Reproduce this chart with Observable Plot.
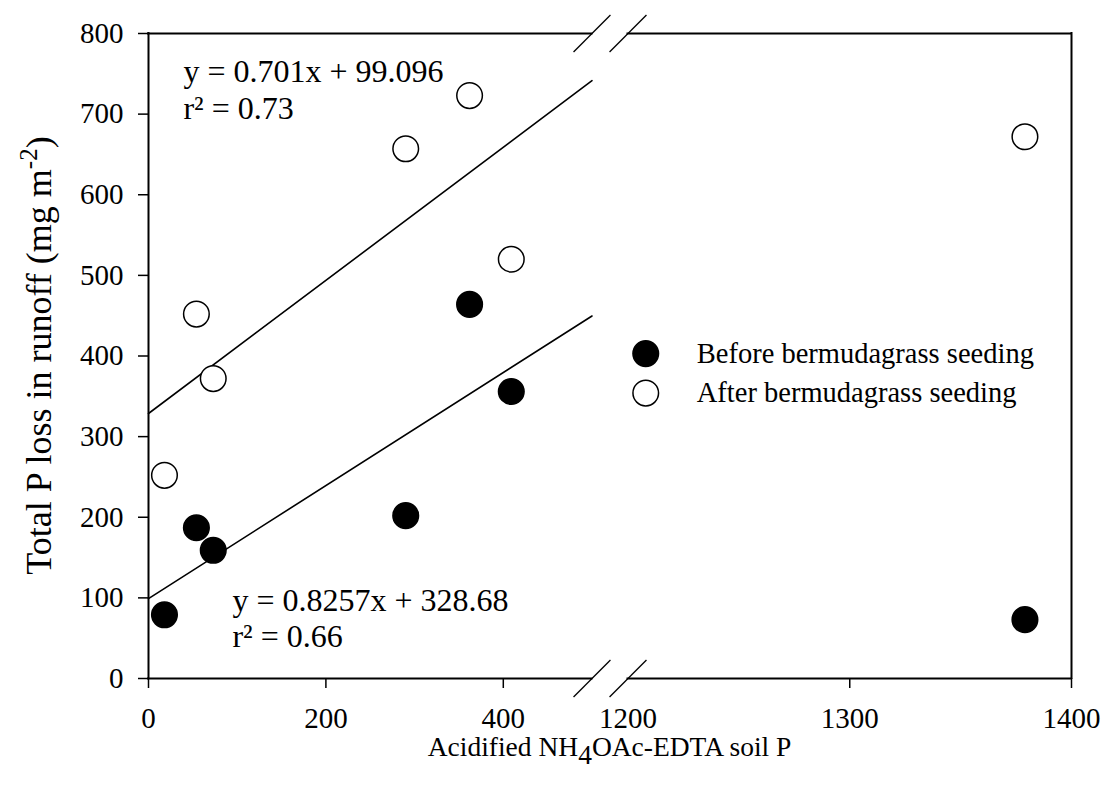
<!DOCTYPE html>
<html><head><meta charset="utf-8">
<script src="https://cdn.jsdelivr.net/npm/d3@7"></script>
<script src="https://cdn.jsdelivr.net/npm/@observablehq/plot@0.6"></script>
<style>body{margin:0;background:#fff} svg{display:block}</style>
</head><body><div id="chart"></div>
<script>
// ---- data ----
const soilP      = [18, 54, 73, 290, 362, 409, 1379];
const beforeLoss = [79, 187, 159, 202, 464, 356, 73];
const afterLoss  = [252, 452, 372, 657, 723, 520, 672];
const fitX       = [0, 500];
const beforeFitY = [99.1, 449.6];
const afterFitY  = [328.7, 741.5];
const xTickValues = [0, 200, 400, 1300, 1400];
const xTickLabels = [0, 200, 400, 1200, 1300, 1400];
const yTickValues = [0, 100, 200, 300, 400, 500, 600, 700, 800];
const eqUpper = "y = 0.701x + 99.096\nr² = 0.73";
const eqLower = "y = 0.8257x + 328.68\nr² = 0.66";
const legendLabels = ["Before bermudagrass seeding", "After bermudagrass seeding"];
const legendFill = ["black", "white"];
const legendY = [403, 354];

// ---- broken x axis: 0–500 | gap | 1200–1400 ----
const seg1 = [0, 500], seg2 = [1200, 1400];
const gapUnits = 40.6, k = 2.5;
const bx = v => v <= seg1[1] ? v : seg1[1] + gapUnits + (v - seg2[0]) * k;

const points = soilP.flatMap((x, i) => [
  {x, y: beforeLoss[i], g: "before"},
  {x, y: afterLoss[i], g: "after"}
]);
const fits = [
  ...fitX.map((x, i) => ({x, y: beforeFitY[i], g: "before"})),
  ...fitX.map((x, i) => ({x, y: afterFitY[i], g: "after"}))
];
const legend = legendLabels.map((label, i) => ({label, fill: legendFill[i], y: legendY[i]}));
const breaks = [seg1[1], seg2[0]].flatMap(xc => [0, 800].map(yc => ({xc: bx(xc), yc})));
const font = "'Liberation Serif', 'Times New Roman', serif";

const svg = Plot.plot({
  width: 1105, height: 796,
  marginLeft: 148, marginRight: 34, marginTop: 33, marginBottom: 118,
  x: {type: "linear", domain: [0, bx(seg2[1])]},
  y: {domain: [0, 800]},
  style: {fontFamily: font, fontSize: "29px", color: "black", background: "white"},
  marks: [
    // frame with gaps at the break
    Plot.ruleY([0, 800], {x1: () => bx(seg1[0]), x2: () => bx(seg1[1]), strokeWidth: 2, strokeLinecap: "square"}),
    Plot.ruleY([0, 800], {x1: () => bx(seg2[0]), x2: () => bx(seg2[1]), strokeWidth: 2, strokeLinecap: "square"}),
    Plot.ruleX([bx(seg1[0]), bx(seg2[1])], {y1: () => 0, y2: () => 800, strokeWidth: 2, strokeLinecap: "square"}),
    // break slashes
    Plot.link(breaks, {x1: d => d.xc - 20.8, y1: d => d.yc - 23, x2: d => d.xc + 20.8, y2: d => d.yc + 23, strokeWidth: 1.3}),
    // axes
    Plot.axisY(yTickValues, {tickSize: 10, tickPadding: 15, strokeWidth: 1.5, label: null}),
    Plot.axisX(xTickValues.map(bx), {tickSize: 10, strokeWidth: 1.5, tickFormat: () => "", label: null}),
    Plot.axisX(xTickLabels.map(bx), {tickSize: 0, tickPadding: 29, label: null,
      tickFormat: d => String(xTickLabels[xTickLabels.map(bx).indexOf(d)])}),
    // regression lines
    Plot.line(fits, {x: d => bx(d.x), y: "y", z: "g", stroke: "black", strokeWidth: 1.6}),
    // data points
    Plot.dot(points, {x: d => bx(d.x), y: "y", r: 12.8,
      fill: d => d.g === "before" ? "black" : "white", stroke: "black", strokeWidth: 1.5}),
    // equations
    Plot.text([eqUpper], {x: () => 39.4, y: () => 694, text: d => d, textAnchor: "start", lineAnchor: "bottom",
      lineHeight: 1.15, fontSize: 32, fill: "black"}),
    Plot.text([eqLower], {x: () => 94.6, y: () => 38.5, text: d => d, textAnchor: "start", lineAnchor: "bottom",
      lineHeight: 1.15, fontSize: 32, fill: "black"}),
    // legend
    Plot.dot(legend, {x: () => bx(1208), y: "y", r: 12.8, fill: "fill", stroke: "black", strokeWidth: 1.5}),
    Plot.text(legend, {x: () => bx(1231), y: "y", text: "label", textAnchor: "start", fontSize: 28.5, fill: "black"})
  ]
});

const s = d3.select(svg);
// y axis label with superscript
const yl = s.append("text")
  .attr("transform", "translate(51,355.5) rotate(-90)")
  .attr("text-anchor", "middle").attr("font-family", font).attr("font-size", 36).attr("fill", "black");
yl.append("tspan").text("Total P loss in runoff (mg m");
yl.append("tspan").attr("dy", -14).attr("font-size", 25).text("-2");
yl.append("tspan").attr("dy", 14).text(")");
// x axis label with subscript
const xl = s.append("text")
  .attr("transform", "translate(609.5,756)")
  .attr("text-anchor", "middle").attr("font-family", font).attr("font-size", 27.5).attr("fill", "black");
xl.append("tspan").text("Acidified NH");
xl.append("tspan").attr("dy", 8).text("4");
xl.append("tspan").attr("dy", -8).text("OAc-EDTA soil P");

document.getElementById("chart").appendChild(svg);
</script>
</body></html>
